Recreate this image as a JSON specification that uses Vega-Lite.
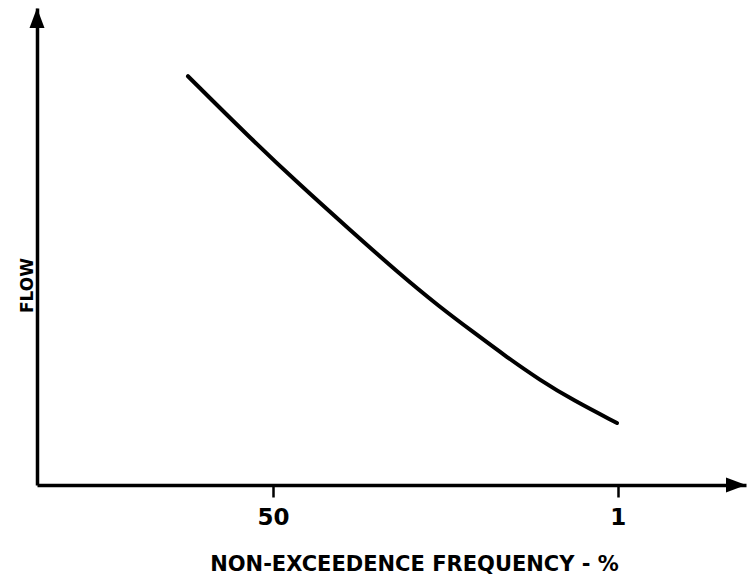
{
  "$schema": "https://vega.github.io/schema/vega-lite/v6.json",
  "autosize": "none",
  "padding": {"left": 37, "top": 8, "right": 2, "bottom": 94},
  "width": 709,
  "height": 477,
  "background": "white",
  "config": {
    "view": {"stroke": null},
    "font": "DejaVu Sans"
  },
  "layer": [
    {
      "data": {"values": [
        {"z": 0.573, "flow": 85.7},
        {"z": 0.175, "flow": 73.4},
        {"z": -0.182, "flow": 62.9},
        {"z": -0.519, "flow": 53.5},
        {"z": -0.856, "flow": 44.2},
        {"z": -1.126, "flow": 37.3},
        {"z": -1.349, "flow": 32.1},
        {"z": -1.578, "flow": 26.8},
        {"z": -1.8, "flow": 22.0},
        {"z": -2.023, "flow": 17.8},
        {"z": -2.32, "flow": 13.0}
      ]},
      "mark": {"type": "line", "color": "black", "strokeWidth": 4, "strokeCap": "round", "interpolate": "basis"},
      "encoding": {
        "x": {
          "field": "z", "type": "quantitative",
          "scale": {"domain": [-3.19, 1.591], "reverse": true, "nice": false, "zero": false},
          "axis": {
            "title": "NON-EXCEEDENCE FREQUENCY - %",
            "values": [0, -2.326],
            "labelExpr": "datum.value == 0 ? '50' : '1'",
            "grid": false,
            "domainColor": "black",
            "domainWidth": 3.5,
            "tickColor": "black",
            "tickWidth": 2.5,
            "tickSize": 12,
            "labelFont": "DejaVu Sans",
            "labelFontSize": 23,
            "labelFontWeight": "bold",
            "labelColor": "black",
            "labelPadding": 9,
            "titleFont": "DejaVu Sans",
            "titleFontSize": 21,
            "titleFontWeight": "bold",
            "titleColor": "black",
            "titleX": 377,
            "titleY": 85,
            "titleAlign": "center",
            "titleBaseline": "alphabetic"
          }
        },
        "y": {
          "field": "flow", "type": "quantitative",
          "scale": {"domain": [0, 100], "nice": false, "zero": false},
          "axis": {
            "title": "FLOW",
            "labels": false,
            "ticks": false,
            "grid": false,
            "domainColor": "black",
            "domainWidth": 3.5,
            "titleFont": "DejaVu Sans",
            "titleFontSize": 17,
            "titleFontWeight": "bold",
            "titleColor": "black",
            "titleAngle": 270,
            "titleX": -5,
            "titleY": 277,
            "titleAlign": "center",
            "titleBaseline": "alphabetic"
          }
        }
      }
    },
    {
      "data": {"values": [{"z": 1.591, "flow": 100}]},
      "mark": {"type": "point", "filled": true, "color": "black", "opacity": 1, "shape": "M0,0L-0.75,2L0.75,2Z", "size": 400},
      "encoding": {
        "x": {"field": "z", "type": "quantitative", "scale": {"domain": [-3.19, 1.591], "reverse": true, "nice": false, "zero": false}},
        "y": {"field": "flow", "type": "quantitative", "scale": {"domain": [0, 100], "nice": false, "zero": false}}
      }
    },
    {
      "data": {"values": [{"z": -3.19, "flow": 0}]},
      "mark": {"type": "point", "filled": true, "color": "black", "opacity": 1, "shape": "M0,0L-2,-0.75L-2,0.75Z", "size": 400},
      "encoding": {
        "x": {"field": "z", "type": "quantitative", "scale": {"domain": [-3.19, 1.591], "reverse": true, "nice": false, "zero": false}},
        "y": {"field": "flow", "type": "quantitative", "scale": {"domain": [0, 100], "nice": false, "zero": false}}
      }
    }
  ]
}
